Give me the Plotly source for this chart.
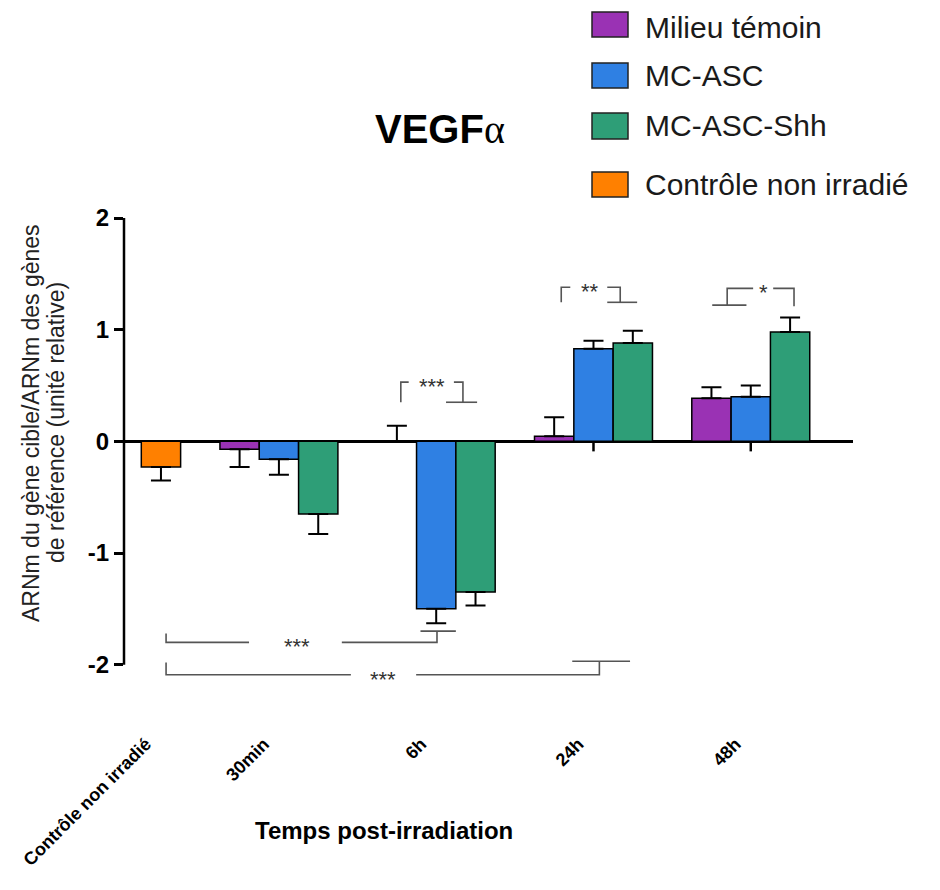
import plotly.graph_objects as go

# ---------------- data ----------------
categories = ["Contrôle non irradié", "30min", "6h", "24h", "48h"]
series_names = ["Milieu témoin", "MC-ASC", "MC-ASC-Shh", "Contrôle non irradié"]

controle_val = [-0.23]
controle_err = [0.12]
milieu_val = [-0.07, 0.0, 0.045, 0.385]
milieu_err = [0.16, 0.14, 0.17, 0.10]
asc_val = [-0.16, -1.50, 0.83, 0.40]
asc_err = [0.14, 0.13, 0.07, 0.10]
shh_val = [-0.65, -1.35, 0.88, 0.98]
shh_err = [0.18, 0.12, 0.11, 0.13]

colors = ["#9A32B4", "#2F80E3", "#2E9E77", "#FF8000"]
y_ticks = [-2, -1, 0, 1, 2]
y_title_lines = ["ARNm du gène cible/ARNm des gènes", "de référence (unité relative)"]

# ---------------- layout geometry ----------------
OFF = 8                                # page body margin
W, H = 940 - 2 * OFF, 890 - 2 * OFF    # figure fits exactly in the window
L, R, T, B = 124, 853, 218, 687        # plot area in page pixels
FONT = "Liberation Sans, Arial, sans-serif"

# category positions on a numeric axis (control alone, then groups of 3 bars)
group_pos = [0] + [4 * i - 1 for i in range(1, len(categories))]
offsets = [-1, 0, 1]


def err(vals, errs):
    up = [e if v >= 0 else 0 for v, e in zip(vals, errs)]
    dn = [e if v < 0 else 0 for v, e in zip(vals, errs)]
    return dict(type="data", symmetric=False, array=up, arrayminus=dn,
                color="black", thickness=2, width=10, visible=True)


def px(x):
    return (x - L) / (R - L)


def py(y):
    return (B - y) / (B - T)


fig = go.Figure()

fig.add_trace(go.Bar(
    x=[group_pos[0]], y=controle_val, width=1, name=series_names[3],
    marker=dict(color=colors[3], line=dict(color="black", width=1.5)),
    error_y=err(controle_val, controle_err), showlegend=False))

for k, (vals, errs) in enumerate([(milieu_val, milieu_err), (asc_val, asc_err), (shh_val, shh_err)]):
    fig.add_trace(go.Bar(
        x=[g + offsets[k] for g in group_pos[1:]], y=vals, width=1, name=series_names[k],
        marker=dict(color=colors[k], line=dict(color="black", width=1.5)),
        error_y=err(vals, errs), showlegend=False))

shapes = []
# y axis line from -2 to 2
shapes.append(dict(type="line", xref="paper", yref="y", x0=0, x1=0, y0=y_ticks[0], y1=y_ticks[-1],
                   line=dict(color="black", width=2.5)))
# small category ticks under the zero line
for g in group_pos[1:]:
    shapes.append(dict(type="line", xref="x", yref="y", x0=g, x1=g, y0=0, y1=-0.09,
                       line=dict(color="black", width=2.5), layer="below"))

# significance brackets (data coordinates)
br_col = "#555555"
brackets = [
    [(6.1, 0.35), (6.1, 0.53), (6.3, 0.53)],
    [(7.45, 0.53), (7.68, 0.53), (7.68, 0.35)],
    [(7.25, 0.35), (8.04, 0.35)],
    [(10.18, 1.245), (10.18, 1.38), (10.41, 1.38)],
    [(11.35, 1.38), (11.68, 1.38), (11.68, 1.245)],
    [(11.35, 1.245), (12.11, 1.245)],
    [(14.02, 1.22), (14.89, 1.22)],
    [(14.4, 1.22), (14.4, 1.37), (15.06, 1.37)],
    [(15.57, 1.37), (16.1, 1.37), (16.1, 1.21)],
    [(0.13, -1.72), (0.13, -1.80), (2.24, -1.80)],
    [(4.6, -1.80), (7.02, -1.80), (7.02, -1.70)],
    [(6.6, -1.70), (7.5, -1.70)],
    [(0.13, -1.98), (0.13, -2.09), (4.83, -2.09)],
    [(6.49, -2.09), (11.15, -2.09), (11.15, -1.97)],
    [(10.46, -1.97), (11.93, -1.97)],
]
for pts in brackets:
    path = "M " + " L ".join(f"{x},{y}" for x, y in pts)
    shapes.append(dict(type="path", xref="x", yref="y", path=path,
                       line=dict(color=br_col, width=1.6)))

stars = [(6.9, 0.53, "***"), (10.92, 1.38, "**"), (15.32, 1.37, "*"),
         (3.46, -1.80, "***"), (5.65, -2.10, "***")]
annotations = []
for x, y, s in stars:
    annotations.append(dict(x=x, y=y, xref="x", yref="y", text=s, showarrow=False,
                            font=dict(family=FONT, size=22, color="#333333"),
                            xanchor="center", yanchor="middle", yshift=-4))

# manual legend
leg_rows = [(12, 37), (63, 88), (113, 139), (172, 197)]
leg_text_y = [27, 76, 126, 185]
for k, ((y0, y1), ty) in enumerate(zip(leg_rows, leg_text_y)):
    shapes.append(dict(type="rect", xref="paper", yref="paper",
                       x0=px(592), x1=px(628), y0=py(y1), y1=py(y0),
                       fillcolor=colors[k], line=dict(color="#222222", width=1.5)))
    annotations.append(dict(x=px(643), y=py(ty), xref="paper", yref="paper",
                            text=series_names[k], showarrow=False, xanchor="left", yanchor="middle",
                            font=dict(family=FONT, size=30, color="#1a1a1a")))

# title
annotations.append(dict(x=px(440), y=py(130), xref="paper", yref="paper", showarrow=False,
                        text="<b>VEGF</b><span style='font-family:Liberation Serif, serif'>α</span>",
                        font=dict(family=FONT, size=40, color="black"),
                        xanchor="center", yanchor="middle"))
# y title (two lines, tight spacing)
for line_txt, xline in zip(y_title_lines, [31, 56]):
    annotations.append(dict(x=px(xline), y=py(423), xref="paper", yref="paper", showarrow=False,
                            text=line_txt, textangle=-90,
                            font=dict(family=FONT, size=23, color="#222222"),
                            xanchor="center", yanchor="middle"))
# x title
annotations.append(dict(x=px(384), y=py(830), xref="paper", yref="paper", showarrow=False,
                        text="<b>Temps post-irradiation</b>",
                        font=dict(family=FONT, size=24, color="black"),
                        xanchor="center", yanchor="middle"))

fig.update_layout(
    width=W, height=H, autosize=False,
    margin=dict(l=L - OFF, r=W + OFF - R, t=T - OFF, b=H + OFF - B, pad=0),
    paper_bgcolor="white", plot_bgcolor="white",
    barmode="overlay", showlegend=False,
    shapes=shapes, annotations=annotations,
    xaxis=dict(range=[-0.94, 17.6], tickvals=group_pos, ticktext=categories,
               tickangle=-45, showline=False, showgrid=False, zeroline=False, ticks="",
               ticklabelstandoff=42, ticklabelshift=-15, ticklabeloverflow="allow",
               tickfont=dict(family=FONT, size=18, color="black", weight="bold")),
    yaxis=dict(range=[-2.2, 2.0], tickvals=y_ticks, ticktext=[str(v) for v in y_ticks],
               ticks="outside", ticklen=9, tickwidth=2.5, tickcolor="black",
               showline=False, showgrid=False, zeroline=True, zerolinecolor="black",
               zerolinewidth=2.5,
               tickfont=dict(family=FONT, size=24, color="black", weight="bold")),
)

fig.write_html("out.html")
